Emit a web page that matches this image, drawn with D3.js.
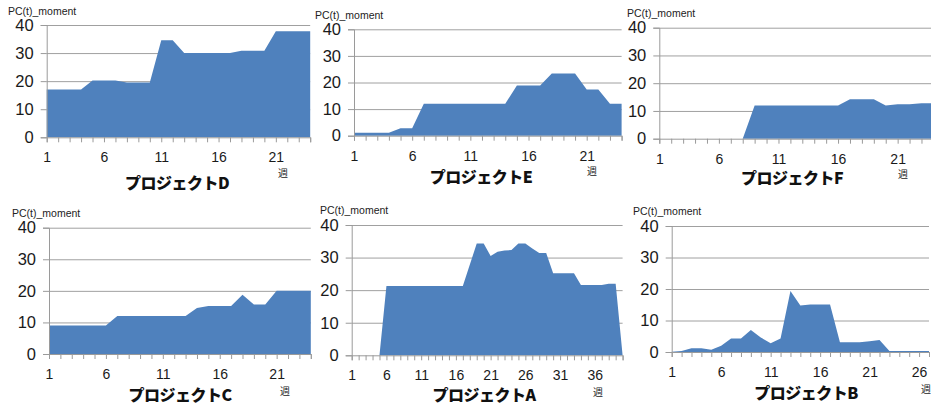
<!DOCTYPE html>
<html>
<head>
<meta charset="utf-8">
<script src="https://cdn.jsdelivr.net/npm/d3@7"></script>
<style>
  html, body { margin: 0; padding: 0; background: #fff; }
  svg { display: block; }
</style>
</head>
<body>
<svg id="chart" width="931" height="406"></svg>
<script>
// Weekly PC(t)_moment per project
const valuesD = [17, 17, 17, 17, 20.2, 20.2, 20.2, 19.5, 19.5, 19.5, 34.6, 34.6, 30, 30, 30, 30, 30, 30.8, 30.8, 30.8, 37.8, 37.8, 37.8, 37.8];
const valuesE = [1.1, 1.1, 1.1, 1.1, 2.8, 2.8, 12, 12, 12, 12, 12, 12, 12, 12, 18.9, 18.9, 18.9, 23.4, 23.4, 23.4, 17.4, 17.4, 12, 12];
const valuesF = [0, 0, 0, 0, 0, 0, 0, 0, 12, 12, 12, 12, 12, 12, 12, 12, 14.2, 14.2, 14.2, 12, 12.4, 12.4, 12.8, 12.8];
const valuesC = [9, 9, 9, 9, 9, 9, 12, 12, 12, 12, 12, 12, 12, 14.6, 15.2, 15.2, 15.2, 18.8, 15.7, 15.7, 20, 20, 20, 20];
const valuesA = [0, 0, 0, 0, 0, 21.3, 21.3, 21.3, 21.3, 21.3, 21.3, 21.3, 21.3, 21.3, 21.3, 21.3, 21.3, 27.8, 34.3, 34.3,
                 30.5, 31.8, 32.2, 32.3, 34.3, 34.3, 32.8, 31.4, 31.4, 25.2, 25.2, 25.2, 25.2, 21.6, 21.6, 21.6, 21.6, 22, 22, 0];
const valuesB = [0.1, 0.3, 1.2, 1.2, 0.7, 2, 4.3, 4.3, 7, 4.6, 2.8, 4.3, 19.4, 14.8, 15.1, 15.1, 15.1, 3.1, 3.1, 3.1,
                 3.4, 3.8, 0.3, 0.3, 0.3, 0.3, 0.3];

const projectNames = ["プロジェクトD", "プロジェクトE", "プロジェクトF", "プロジェクトC", "プロジェクトA", "プロジェクトB"];
const yTicks = [0, 10, 20, 30, 40];
const yLabel = "PC(t)_moment";
const xUnit = "週";

// Panel frames: plot box (first/last week x, zero and 40 y), title and unit placement
const panels = [
  { values: valuesD, x0: 46.7, x1: 310.2, yb: 137.3, yt: 25,    lbl: [8, 14.5],  title: [177, 189], unit: [283, 177] },
  { values: valuesE, x0: 354,  x1: 621.6, yb: 135.7, yt: 29.3,  lbl: [315, 18.5], title: [481, 183], unit: [592, 175] },
  { values: valuesF, x0: 659.3, x1: 933.4, yb: 138.7, yt: 27.7, lbl: [627, 17],  title: [792, 184], unit: [903, 178] },
  { values: valuesC, x0: 49,   x1: 310.8, yb: 354,   yt: 227.7, lbl: [12, 217],  title: [180, 401], unit: [285, 395] },
  { values: valuesA, x0: 351.7, x1: 622.6, yb: 355.3, yt: 225,  lbl: [320, 214], title: [484, 401], unit: [598, 396] },
  { values: valuesB, x0: 671.7, x1: 929,  yb: 352,   yt: 226,   lbl: [633, 215], title: [806, 399], unit: [926, 393] }
];

const svg = d3.select("#chart");
const fill = "#4f81bd";
const gridColor = "#a0a0a0";
const axisColor = "#9a9a9a";

panels.forEach((p, idx) => {
  const weeks = d3.range(1, p.values.length + 1);
  const x = d3.scalePoint().domain(weeks).range([p.x0, p.x1]).padding(0);
  const y = d3.scaleLinear().domain([0, 40]).range([p.yb, p.yt]);
  const g = svg.append("g");

  // horizontal gridlines
  g.append("g")
    .attr("transform", `translate(${p.x0},0)`)
    .call(d3.axisLeft(y).tickValues(yTicks.slice(1)).tickSize(-(p.x1 - p.x0)).tickFormat(""))
    .call(s => s.select(".domain").remove())
    .call(s => s.selectAll("line").attr("stroke", gridColor).attr("stroke-width", 1));

  // area
  g.append("path")
    .datum(p.values)
    .attr("fill", fill)
    .attr("d", d3.area()
      .x((d, i) => x(weeks[i]))
      .y0(y(0))
      .y1(d => y(d)));

  // y axis
  g.append("g")
    .attr("transform", `translate(${p.x0},0)`)
    .call(d3.axisLeft(y).tickValues(yTicks).tickSize(6).tickPadding(7))
    .call(s => s.select(".domain").attr("stroke", axisColor))
    .call(s => s.selectAll("line").attr("stroke", axisColor))
    .call(s => s.selectAll("text")
      .attr("fill", "#1a1a1a")
      .attr("font-family", "'Liberation Sans', Arial, sans-serif")
      .attr("font-size", 16.5));

  // x axis
  g.append("g")
    .attr("transform", `translate(0,${p.yb})`)
    .call(d3.axisBottom(x).tickValues(weeks).tickSize(5).tickPadding(10)
      .tickFormat(d => (d - 1) % 5 === 0 ? d : ""))
    .call(s => s.select(".domain").attr("stroke", axisColor))
    .call(s => s.selectAll("line").attr("stroke", axisColor))
    .call(s => s.selectAll("text")
      .attr("fill", "#1a1a1a")
      .attr("font-family", "'Liberation Sans', Arial, sans-serif")
      .attr("font-size", 14));

  // measure label
  g.append("text")
    .attr("x", p.lbl[0]).attr("y", p.lbl[1])
    .attr("font-family", "'Liberation Sans', Arial, sans-serif")
    .attr("font-size", 10.5)
    .attr("fill", "#222")
    .text(yLabel);

  // unit
  g.append("text")
    .attr("x", p.unit[0]).attr("y", p.unit[1])
    .attr("text-anchor", "middle")
    .attr("font-family", "'Noto Sans CJK JP', sans-serif")
    .attr("font-size", 10)
    .attr("fill", "#222")
    .text(xUnit);

  // project title
  g.append("text")
    .attr("x", p.title[0]).attr("y", p.title[1])
    .attr("text-anchor", "middle")
    .attr("font-family", "'Noto Sans CJK JP', sans-serif")
    .attr("font-weight", 900)
    .attr("font-size", 16)
    .attr("letter-spacing", -0.5)
    .attr("fill", "#111")
    .text(projectNames[idx]);
});
</script>
</body>
</html>
